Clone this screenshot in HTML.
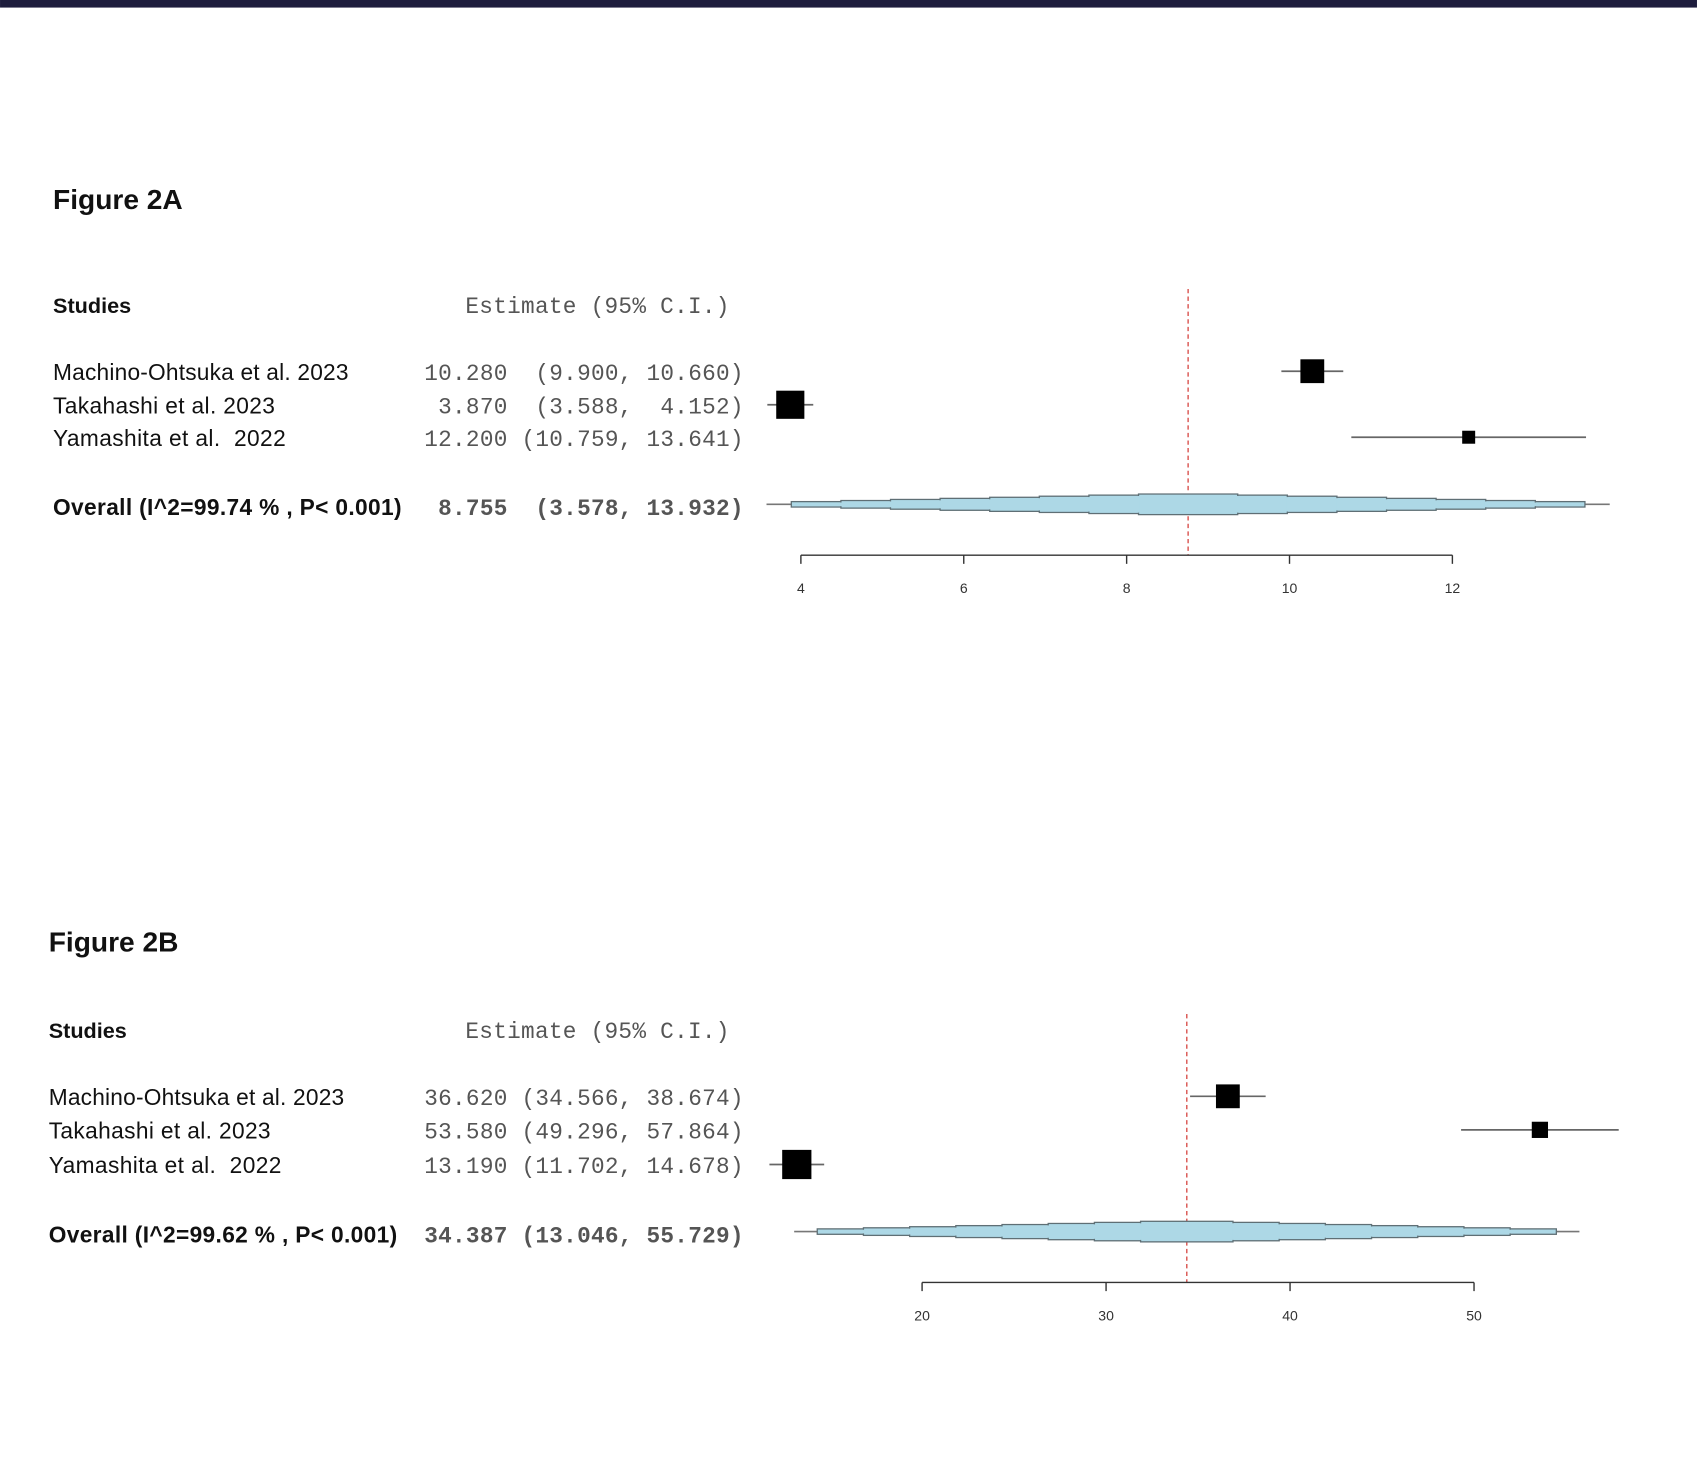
<!DOCTYPE html>
<html><head><meta charset="utf-8">
<style>
html,body{margin:0;padding:0;background:#fff;}
svg{display:block;}
.t{font-family:"Liberation Sans",sans-serif;white-space:pre;}
.m{font-family:"Liberation Mono",monospace;fill:#555;white-space:pre;}
</style></head>
<body>
<svg id="root" width="1697" height="1466" viewBox="0 0 1568 1354.6" xmlns="http://www.w3.org/2000/svg">
<rect x="0" y="0" width="1568" height="7" fill="#1e1d3d"/>
</svg>
<script>
const studies = ["Machino-Ohtsuka et al. 2023", "Takahashi et al. 2023", "Yamashita et al.  2022"];
const estA = [10.280, 3.870, 12.200];
const lowA = [9.900, 3.588, 10.759];
const highA = [10.660, 4.152, 13.641];
const sizeA = [22, 26, 12];
const overallA = [8.755, 3.578, 13.932];
const i2A = "99.74";
const ticksA = [4, 6, 8, 10, 12];

const estB = [36.620, 53.580, 13.190];
const lowB = [34.566, 49.296, 11.702];
const highB = [38.674, 57.864, 14.678];
const sizeB = [22, 15, 27];
const overallB = [34.387, 13.046, 55.729];
const i2B = "99.62";
const ticksB = [20, 30, 40, 50];

const NS = "http://www.w3.org/2000/svg";
const root = document.getElementById('root');
function mk(tag, attrs, parent, text){
  const e = document.createElementNS(NS, tag);
  for (const k in attrs) e.setAttribute(k, attrs[k]);
  if (text !== undefined) e.textContent = text;
  (parent||root).appendChild(e);
  return e;
}
function f3(v){ return v.toFixed(3); }
function pad(s,n){ while(s.length<n) s=" "+s; return s; }
function fmt(a,b,c){ return pad(f3(a),6) + " " + pad("(" + f3(b) + ",", 8) + " " + pad(f3(c),6) + ")"; }

function drawFig(cfg){
  const g = mk('g', {});
  
  
  const sx = v => cfg.x0 + (v - cfg.t0) * (cfg.x1 - cfg.x0) / (cfg.t1 - cfg.t0);

  let e = mk('text', {x: cfg.lx, y: cfg.titleY, class: 't', 'font-size': 26, 'font-weight': 'bold', fill: '#111'}, g, cfg.title);
  
  
  e = mk('text', {x: cfg.lx, y: cfg.headY, class: 't', 'font-size': 20, 'font-weight': 'bold', fill: '#111'}, g, 'Studies');
  
  
  e = mk('text', {x: 430, y: cfg.headY, class: 'm', 'font-size': 21, textLength: 244}, g, 'Estimate (95% C.I.)');
  
  

  e = mk('line', {x1: sx(cfg.overall[0]), x2: sx(cfg.overall[0]), y1: cfg.dashTop, y2: cfg.axisY, stroke: '#d9534f', 'stroke-width': 1.3, 'stroke-dasharray': '4,3'}, g);
  
  

  for (let i = 0; i < studies.length; i++){
    const y = cfg.rowY[i];
    e = mk('text', {x: cfg.lx, y: y + 8, class: 't', 'font-size': 21, fill: '#111', textLength: [273, 205, 215][i]}, g, studies[i]);
    
    
    const s = fmt(cfg.est[i], cfg.low[i], cfg.high[i]);
    e = mk('text', {x: 392, y: y + 8, class: 'm', 'font-size': 21, textLength: 295}, g, s);
    
    
    e = mk('line', {x1: sx(cfg.low[i]), x2: sx(cfg.high[i]), y1: y, y2: y, stroke: '#666', 'stroke-width': 1.6}, g);
    
    
    const w = cfg.size[i];
    e = mk('rect', {x: sx(cfg.est[i]) - w/2, y: y - w/2, width: w, height: w, fill: '#000'}, g);
    
    
  }

  const oy = cfg.overallY;
  e = mk('text', {x: cfg.lx, y: oy + 10, class: 't', 'font-size': 21, 'font-weight': 'bold', fill: '#111', textLength: 322}, g, 'Overall (I^2=' + cfg.i2 + ' % , P< 0.001)');
  
  
  const os = fmt(cfg.overall[0], cfg.overall[1], cfg.overall[2]);
  e = mk('text', {x: 392, y: oy + 10, class: 'm', 'font-size': 21, 'font-weight': 'bold', fill: '#222', textLength: 295}, g, os);
  
  

  const cx = sx(cfg.overall[0]);
  const lo = sx(cfg.overall[1]), hi = sx(cfg.overall[2]);
  e = mk('line', {x1: lo, x2: hi, y1: oy, y2: oy, stroke: '#777', 'stroke-width': 1.5}, g);
  
  
  const N = 8;
  for (let k = N; k >= 1; k--){
    const fL = (cx - lo) * (k / (N + 0.5)), fR = (hi - cx) * (k / (N + 0.5));
    const hh = 1.5 + 8 * (1 - (k - 1) / N);
    e = mk('rect', {x: cx - fL, y: oy - hh, width: fL + fR, height: 2 * hh, fill: '#add8e6', stroke: '#5f6f75', 'stroke-width': 1.2}, g);
    
    
  }
  for (let k = N; k >= 1; k--){
    const fL = (cx - lo) * (k / (N + 0.5)), fR = (hi - cx) * (k / (N + 0.5));
    const hh = 1.5 + 8 * (1 - (k - 1) / N) - 0.8;
    e = mk('rect', {x: cx - fL + 0.8, y: oy - hh, width: fL + fR - 1.6, height: 2 * hh, fill: '#add8e6'}, g);
    
    
  }

  const t = cfg.ticks;
  e = mk('line', {x1: sx(t[0]), x2: sx(t[t.length - 1]), y1: cfg.axisY, y2: cfg.axisY, stroke: '#333', 'stroke-width': 1.3}, g);
  
  
  for (const v of t){
    e = mk('line', {x1: sx(v), x2: sx(v), y1: cfg.axisY, y2: cfg.axisY + 8, stroke: '#333', 'stroke-width': 1.3}, g);
    
    
    e = mk('text', {x: sx(v), y: cfg.axisY + 35, class: 't', 'font-size': 13, fill: '#333', 'text-anchor': 'middle'}, g, String(v));
    
    
  }
}

drawFig({id: 'figure-2a', title: 'Figure 2A', lx: 49, titleY: 193, headY: 289,
  rowY: [343, 374, 404], overallY: 466, dashTop: 267, axisY: 513,
  x0: 740, x1: 1342, t0: 4, t1: 12, ticks: ticksA,
  est: estA, low: lowA, high: highA, size: sizeA, overall: overallA, i2: i2A});
drawFig({id: 'figure-2b', title: 'Figure 2B', lx: 45, titleY: 879, headY: 959,
  rowY: [1013, 1044, 1076], overallY: 1138, dashTop: 937, axisY: 1185,
  x0: 852, x1: 1362, t0: 20, t1: 50, ticks: ticksB,
  est: estB, low: lowB, high: highB, size: sizeB, overall: overallB, i2: i2B});
</script>
</body></html>
